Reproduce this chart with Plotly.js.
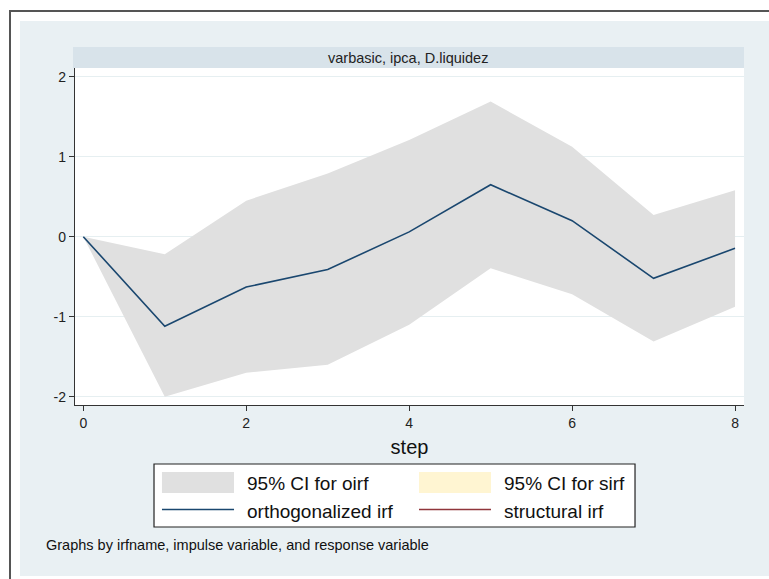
<!DOCTYPE html>
<html>
<head>
<meta charset="utf-8">
<script src="https://cdn.plot.ly/plotly-3.0.1.min.js"></script>
<style>
  html, body { margin: 0; padding: 0; background: #ffffff; width: 769px; height: 579px; overflow: hidden; }
  #frame { position: absolute; left: 9px; top: 10px; width: 800px; height: 600px;
           border-left: 2px solid #555; border-top: 2px solid #555; }
  #chart { position: absolute; left: 20px; top: 21px; width: 749px; height: 555px; }
</style>
</head>
<body>
<div id="frame"></div>
<div id="chart"></div>
<script>
// ---- data ----
const steps      = [0, 1, 2, 3, 4, 5, 6, 7, 8];
const oirf       = [0, -1.12, -0.63, -0.41, 0.06, 0.65, 0.20, -0.52, -0.145];
const oirfUpper  = [0, -0.22, 0.45, 0.79, 1.21, 1.69, 1.125, 0.27, 0.58];
const oirfLower  = [0, -2.00, -1.70, -1.60, -1.10, -0.395, -0.72, -1.31, -0.875];
const panelTitle = "varbasic, ipca, D.liquidez";
const xTitle     = "step";
const xTickVals  = [0, 2, 4, 6, 8];
const yTickVals  = [-2, -1, 0, 1, 2];
const yTickText  = ["-2", "-1", "0", "1", "2"];
const legendLabels = ["95% CI for oirf", "95% CI for sirf", "orthogonalized irf", "structural irf"];
const noteText   = "Graphs by irfname, impulse variable, and response variable";

// ---- colours ----
const bgColor   = "#e9f0f3";
const stripCol  = "#d8e3ea";
const ciCol     = "#e0e0e0";
const sirfCiCol = "#fff5d2";
const navy      = "#1a476f";
const maroon    = "#90353b";
const gridCol   = "#e6eff1";
const axisCol   = "#333333";

const traces = [
  { x: steps, y: oirfLower, type: "scatter", mode: "lines", line: { width: 0, color: ciCol },
    showlegend: false, hoverinfo: "skip" },
  { x: steps, y: oirfUpper, type: "scatter", mode: "lines", line: { width: 0, color: ciCol },
    fill: "tonexty", fillcolor: ciCol, showlegend: false, hoverinfo: "skip" },
  { x: steps, y: oirf, type: "scatter", mode: "lines", line: { width: 1.6, color: navy },
    showlegend: false }
];

const font = "Liberation Sans, Arial, Helvetica, sans-serif";

// legend geometry (paper coords relative to plot area)
const shapes = [
  // strip title band
  { type: "rect", xref: "paper", yref: "paper", x0: -0.003, x1: 1, y0: 1, y1: 1.0623,
    fillcolor: stripCol, line: { width: 0 } },
  // legend box
  { type: "rect", xref: "paper", yref: "paper", x0: 0.1181, x1: 0.8371, y0: -0.3620, y1: -0.1751,
    fillcolor: "#ffffff", line: { width: 1.2, color: "#222" } },
  { type: "rect", xref: "paper", yref: "paper", x0: 0.1300, x1: 0.2377, y0: -0.2611, y1: -0.1988,
    fillcolor: ciCol, line: { width: 0 } },
  { type: "rect", xref: "paper", yref: "paper", x0: 0.5142, x1: 0.6218, y0: -0.2611, y1: -0.1988,
    fillcolor: sirfCiCol, line: { width: 0 } },
  { type: "line", xref: "paper", yref: "paper", x0: 0.1300, x1: 0.2377, y0: -0.3101, y1: -0.3101,
    line: { width: 1.6, color: navy } },
  { type: "line", xref: "paper", yref: "paper", x0: 0.5142, x1: 0.6218, y0: -0.3101, y1: -0.3101,
    line: { width: 1.6, color: maroon } }
];

const legFont = { family: font, size: 19, color: "#111" };
const annotations = [
  { xref: "paper", yref: "paper", x: 0.4985, y: 1.0297, text: panelTitle, showarrow: false,
    xanchor: "center", yanchor: "middle", font: { family: font, size: 14.5, color: "#222" } },
  { xref: "paper", yref: "paper", x: 0.2541, y: -0.2315, text: legendLabels[0], showarrow: false,
    xanchor: "left", yanchor: "middle", font: legFont },
  { xref: "paper", yref: "paper", x: 0.6383, y: -0.2315, text: legendLabels[1], showarrow: false,
    xanchor: "left", yanchor: "middle", font: legFont },
  { xref: "paper", yref: "paper", x: 0.2541, y: -0.3160, text: legendLabels[2], showarrow: false,
    xanchor: "left", yanchor: "middle", font: legFont },
  { xref: "paper", yref: "paper", x: 0.6383, y: -0.3160, text: legendLabels[3], showarrow: false,
    xanchor: "left", yanchor: "middle", font: legFont },
  { xref: "paper", yref: "paper", x: -0.0463, y: -0.4154, text: noteText, showarrow: false,
    xanchor: "left", yanchor: "middle", font: { family: font, size: 14.5, color: "#111" } }
];

const layout = {
  width: 749, height: 555,
  margin: { l: 55, r: 25, t: 47, b: 171, pad: 0 },
  paper_bgcolor: bgColor,
  plot_bgcolor: "#ffffff",
  showlegend: false,
  font: { family: font, size: 14, color: "#222" },
  xaxis: {
    range: [-0.102, 8.11], tickvals: xTickVals, ticks: "outside", ticklen: 5, tickcolor: axisCol,
    showline: true, linecolor: axisCol, linewidth: 1.2, showgrid: false, zeroline: false,
    tickfont: { family: font, size: 14, color: "#222" },
    title: { text: xTitle, font: { family: font, size: 20, color: "#111" }, standoff: 10 }
  },
  yaxis: {
    range: [-2.104, 2.109], tickvals: yTickVals, ticktext: yTickText, ticks: "outside", ticklen: 5,
    tickcolor: axisCol, showline: true, linecolor: axisCol, linewidth: 1.2,
    showgrid: true, gridcolor: gridCol, gridwidth: 1, zeroline: false,
    tickfont: { family: font, size: 14, color: "#222" }
  },
  shapes: shapes,
  annotations: annotations
};

Plotly.newPlot("chart", traces, layout, { staticPlot: true, displayModeBar: false });
</script>
</body>
</html>
